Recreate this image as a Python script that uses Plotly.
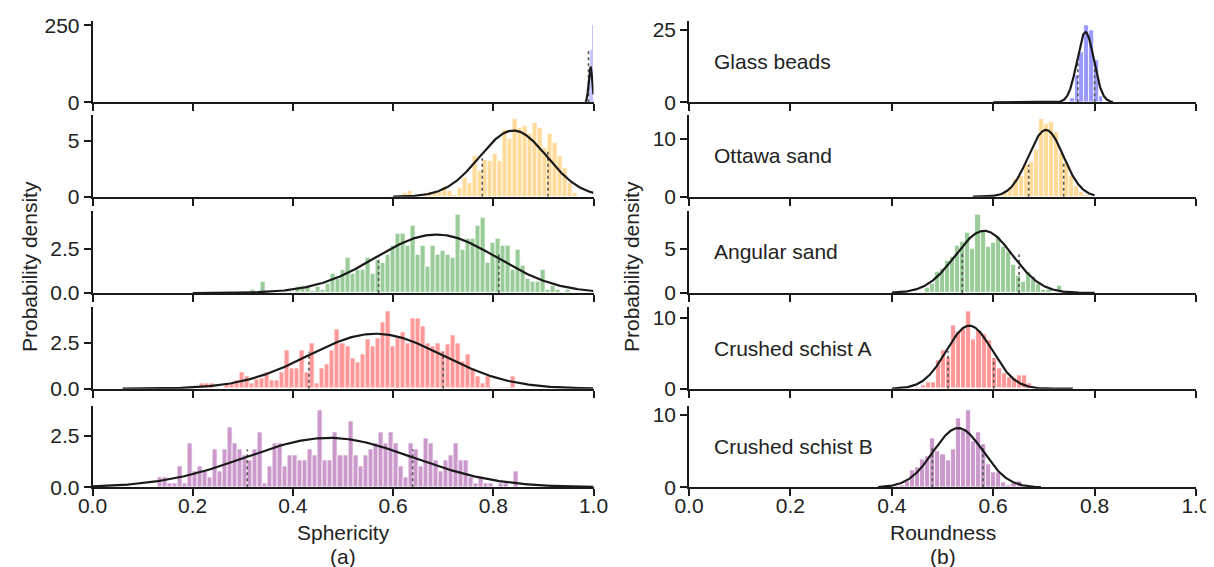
import numpy as np
import plotly.graph_objects as go

W, H = 1214, 567

# ---------------- data ----------------
materials = ["Glass beads", "Ottawa sand", "Angular sand", "Crushed schist A", "Crushed schist B"]
bar_colors = ["#9999ff", "#ffdb99", "#99cc99", "#ff9999", "#cc99cc"]

# Sphericity histograms (probability density)
sph_bin_start = [0.992, 0.588, 0.315, 0.174, 0.130]
sph_bin_width = [0.002, 0.01, 0.01, 0.01, 0.01]
sph_glass = [70, 170, 250, 10]
sph_ottawa = [0.1, 0.0, 0.0, 0.33, 0.5, 0.0, 0.0, 0.25, 0.45, 0.33, 0.4, 0.85, 0.55, 0.15,
              0.75, 1.7, 1.25, 3.65, 2.3, 3.3, 3.2, 3.8, 3.2, 6.0, 5.2, 7.0, 6.2, 6.4, 5.6,
              6.6, 6.2, 4.4, 5.6, 4.8, 3.65, 2.6, 1.25, 0.3]
sph_angular = [0.19, 0.0, 0.63, 0.0, 0.0, 0.0, 0.1, 0.1, 0.1, 0.35, 0.4, 0.38, 0.15, 0.38,
               0.2, 0.54, 1.08, 0.83, 1.3, 1.98, 1.08, 1.3, 1.3, 1.98, 1.08, 1.85, 1.73,
               2.17, 2.65, 3.33, 3.33, 2.65, 3.77, 2.17, 2.65, 1.5, 2.65, 2.17, 2.4, 2.17,
               1.98, 4.42, 2.42, 3.08, 3.08, 3.77, 4.25, 1.73, 2.85, 3.08, 2.65, 2.65, 1.3,
               2.42, 1.54, 0.83, 0.63, 0.63, 1.3, 0.19, 0.44, 0.19, 0.0, 0.19]
sph_schist_a = [0.09, 0.09, 0.0, 0.0, 0.28, 0.28, 0.28, 0.09, 0.0, 0.28, 0.28, 0.46, 0.87,
                0.69, 0.28, 0.5, 0.56, 0.87, 0.46, 0.46, 0.87, 2.07, 1.09, 1.09, 2.07, 0.87,
                2.44, 0.28, 1.09, 1.3, 2.07, 3.24, 2.44, 2.31, 1.67, 1.43, 1.85, 2.65, 2.28,
                2.72, 3.61, 4.2, 2.28, 2.72, 3.06, 2.46, 3.83, 3.83, 3.39, 2.46, 2.31, 2.46,
                2.04, 2.41, 2.87, 2.46, 1.48, 1.85, 1.11, 0.69, 0.28, 0.69, 0.09, 0.0, 0.09,
                0.09, 0.69]
sph_schist_b = [0.49, 0.49, 0.21, 0.21, 1.02, 0.21, 2.11, 0.75, 1.02, 0.75, 0.49, 1.83, 0.75,
                1.83, 2.92, 2.11, 1.83, 1.56, 1.3, 1.83, 2.65, 0.21, 1.02, 2.11, 2.11, 1.02,
                1.56, 1.56, 1.3, 1.3, 1.83, 1.56, 3.73, 1.3, 1.3, 2.65, 1.56, 1.56, 3.18, 1.56,
                1.02, 1.56, 1.83, 2.11, 2.65, 2.11, 2.65, 2.11, 1.02, 0.49, 2.11, 1.83, 1.02,
                2.37, 2.11, 1.3, 0.75, 1.3, 1.56, 2.11, 1.3, 1.3, 0.49, 0.21, 0.49, 0.21, 0.21,
                0.0, 0.21, 0.21, 0.0, 0.75]

# Roundness histograms (probability density)
rnd_bin_start = [0.751, 0.590, 0.465, 0.447, 0.406]
rnd_bin_width = [0.0095, 0.01, 0.01, 0.01, 0.01]
rnd_glass = [1.5, 9.4, 17.3, 26.6, 24.7, 14.5, 2.0]
rnd_ottawa = [0.35, 0.35, 0.2, 0.6, 1.5, 3.0, 3.5, 5.5, 6.0, 8.0, 13.4, 12.5, 12.8, 11.2,
              7.5, 5.8, 3.5, 1.8, 0.8, 0.3]
rnd_angular = [0.6, 1.0, 2.4, 2.8, 3.7, 4.1, 5.4, 5.8, 6.9, 5.0, 8.9, 7.1, 5.3, 5.7, 6.4,
               5.3, 4.7, 3.2, 2.0, 1.3, 2.4, 1.9, 1.0, 0.4, 0.4, 0.0, 0.87]
rnd_schist_a = [0.2, 0.47, 0.94, 0.9, 3.96, 5.4, 4.4, 8.96, 8.1, 8.35, 10.9, 6.9, 8.2, 7.6,
                6.8, 4.3, 2.9, 2.2, 1.6, 1.5, 1.9, 1.9, 0.7, 0.2]
rnd_schist_b = [0.2, 0.32, 0.78, 2.3, 2.76, 3.87, 4.24, 6.77, 4.9, 4.47, 3.7, 5.25, 9.5, 7.9,
                10.6, 6.3, 7.55, 5.85, 3.1, 2.0, 2.0, 0.65, 0.3, 0.55, 0.8, 0.3]

# fitted normal curves: mean, standard deviation, drawn range
sph_mean = [0.994, 0.840, 0.686, 0.565, 0.472]
sph_sd = [0.00347, 0.067, 0.121, 0.134, 0.167]
sph_curve_range = [(0.984, 1.0), (0.60, 1.0), (0.20, 1.0), (0.06, 1.0), (0.0, 1.0)]
rnd_mean = [0.782, 0.704, 0.582, 0.553, 0.531]
rnd_sd = [0.0165, 0.0347, 0.0565, 0.045, 0.049]
rnd_curve_range = [(0.60, 0.836), (0.56, 0.80), (0.40, 0.80), (0.40, 0.757), (0.373, 0.694)]

# dotted marker lines: (position, height)
sph_dotted = [[(0.990, 171)], [(0.778, 3.45), (0.909, 4.05)], [(0.571, 1.85), (0.811, 2.17)],
              [(0.432, 2.0), (0.700, 2.0)], [(0.309, 1.83), (0.639, 1.83)]]
rnd_dotted = [[(0.767, 15), (0.800, 14)], [(0.670, 5.5), (0.739, 5.8)], [(0.539, 4.5), (0.651, 4.36)],
              [(0.511, 5.3), (0.601, 4.3)], [(0.480, 5.6), (0.580, 5.85)]]

# y tick values / labels
sph_yticks = [[0, 250], [0, 5], [0, 2.5], [0, 2.5], [0, 2.5]]
sph_yticklabels = [["0", "250"], ["0", "5"], ["0.0", "2.5"], ["0.0", "2.5"], ["0.0", "2.5"]]
rnd_yticks = [[0, 25], [0, 10], [0, 5], [0, 10], [0, 10]]
rnd_yticklabels = [["0", "25"], ["0", "10"], ["0", "5"], ["0", "10"], ["0", "10"]]

x_ticks = [0.0, 0.2, 0.4, 0.6, 0.8, 1.0]
x_ticklabels = ["0.0", "0.2", "0.4", "0.6", "0.8", "1.0"]

sph_hist = [sph_glass, sph_ottawa, sph_angular, sph_schist_a, sph_schist_b]
rnd_hist = [rnd_glass, rnd_ottawa, rnd_angular, rnd_schist_a, rnd_schist_b]

# ---------------- layout geometry (pixels) ----------------
row_top = [13.3, 107.0, 202.7, 299.3, 398.3]
row_base = [94.3, 188.7, 285.0, 380.7, 479.3]
col_x = [(84.5, 585.5), (681.0, 1188.0)]

FONT = "Arial, Liberation Sans, sans-serif"
TXT = "#222222"
FS = 21


def pdf(x, m, s):
    return np.exp(-0.5 * ((x - m) / s) ** 2) / (s * np.sqrt(2 * np.pi))


fig = go.Figure()
layout = {}

for col in range(2):
    hists = sph_hist if col == 0 else rnd_hist
    starts = sph_bin_start if col == 0 else rnd_bin_start
    widths = sph_bin_width if col == 0 else rnd_bin_width
    means = sph_mean if col == 0 else rnd_mean
    sds = sph_sd if col == 0 else rnd_sd
    cranges = sph_curve_range if col == 0 else rnd_curve_range
    dotted = sph_dotted if col == 0 else rnd_dotted
    yt = sph_yticks if col == 0 else rnd_yticks
    ytl = sph_yticklabels if col == 0 else rnd_yticklabels
    for row in range(5):
        idx = col * 5 + row
        n = idx + 1
        xa = "x" if n == 1 else f"x{n}"
        ya = "y" if n == 1 else f"y{n}"
        heights = np.array(hists[row], dtype=float)
        bw = widths[row]
        centers = starts[row] + bw * (np.arange(len(heights)) + 0.5)
        px_w = bw * (col_x[col][1] - col_x[col][0])
        fig.add_trace(go.Bar(
            x=centers, y=heights, width=bw, xaxis=xa, yaxis=ya,
            marker=dict(color=bar_colors[row] if px_w > 3 else "#c4c4ff",
                        line=dict(color="white", width=0.8 if px_w > 3 else 0)),
            showlegend=False, hoverinfo="skip"))
        dx, dy = [], []
        for (p, h) in dotted[row]:
            dx += [p, p, None]
            dy += [0, h, None]
        fig.add_trace(go.Scatter(x=dx, y=dy, mode="lines", xaxis=xa, yaxis=ya,
                                 line=dict(color="#555555", width=1.6, dash="dot"),
                                 showlegend=False, hoverinfo="skip"))
        xs = np.linspace(cranges[row][0], cranges[row][1], 400)
        fig.add_trace(go.Scatter(x=xs, y=pdf(xs, means[row], sds[row]), mode="lines",
                                 xaxis=xa, yaxis=ya,
                                 line=dict(color="#1a1a1a", width=2.2),
                                 showlegend=False, hoverinfo="skip"))

        x0, x1 = col_x[col]
        common = dict(showgrid=False, zeroline=False, showline=True, linecolor="#1a1a1a",
                      linewidth=1.6, ticks="outside", ticklen=7, tickwidth=1.5,
                      tickcolor="#1a1a1a", automargin=False, fixedrange=True,
                      tickfont=dict(family=FONT, size=FS, color=TXT))
        layout[f"xaxis{n}" if n > 1 else "xaxis"] = dict(
            common, domain=[x0 / W, x1 / W], anchor=ya, range=[0, 1],
            tickmode="array", tickvals=x_ticks, ticktext=x_ticklabels,
            showticklabels=(row == 4), ticklabelstandoff=-8)
        layout[f"yaxis{n}" if n > 1 else "yaxis"] = dict(
            common, domain=[1 - row_base[row] / H, 1 - row_top[row] / H], anchor=xa,
            range=[0, 1.05 * heights.max()], tickmode="array",
            tickvals=yt[row], ticktext=ytl[row])

annotations = []
for row in range(5):
    n = 6 + row
    annotations.append(dict(text=materials[row], xref=f"x{n} domain", yref=f"y{n} domain",
                            x=0.045, y=0.5, xanchor="left", yanchor="middle",
                            showarrow=False, font=dict(family=FONT, size=FS, color=TXT)))

for xc, title, tag in [((col_x[0][0] + col_x[0][1]) / 2, "Sphericity", "(a)"),
                       ((col_x[1][0] + col_x[1][1]) / 2, "Roundness", "(b)")]:
    annotations.append(dict(text=title, xref="paper", yref="paper", x=xc / W, y=1 - 524 / H,
                            xanchor="center", yanchor="middle", showarrow=False,
                            font=dict(family=FONT, size=FS, color=TXT)))
    annotations.append(dict(text=tag, xref="paper", yref="paper", x=xc / W, y=1 - 548 / H,
                            xanchor="center", yanchor="middle", showarrow=False,
                            font=dict(family=FONT, size=FS, color=TXT)))

for xc in [21, 623]:
    annotations.append(dict(text="Probability density", xref="paper", yref="paper",
                            x=xc / W, y=1 - 259 / H, xanchor="center", yanchor="middle",
                            textangle=-90, showarrow=False,
                            font=dict(family=FONT, size=FS, color=TXT)))

fig.update_layout(width=W, height=H, margin=dict(l=0, r=0, t=0, b=0),
                  paper_bgcolor="white", plot_bgcolor="white", barmode="overlay",
                  bargap=0, showlegend=False, annotations=annotations,
                  font=dict(family=FONT, size=FS, color=TXT), **layout)

fig.write_html("out.html")
